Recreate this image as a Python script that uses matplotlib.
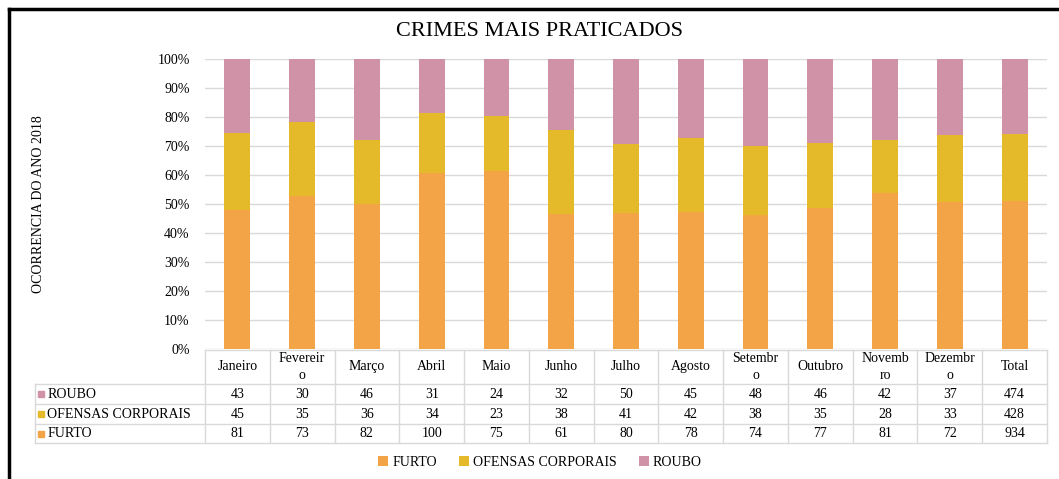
import numpy as np
import matplotlib.pyplot as plt
import matplotlib.transforms as mtransforms
from matplotlib.lines import Line2D
from matplotlib.ticker import PercentFormatter

# dados da tabela
meses = ["Janeiro", "Fevereir\no", "Março", "Abril", "Maio", "Junho", "Julho",
         "Agosto", "Setembr\no", "Outubro", "Novemb\nro", "Dezembr\no", "Total"]
furto = [81, 73, 82, 100, 75, 61, 80, 78, 74, 77, 81, 72, 934]
ofensas = [45, 35, 36, 34, 23, 38, 41, 42, 38, 35, 28, 33, 428]
roubo = [43, 30, 46, 31, 24, 32, 50, 45, 48, 46, 42, 37, 474]

cor_furto = "#F2A447"
cor_ofensas = "#E4BA2A"
cor_roubo = "#D092A7"
grade = "#D9D9D9"

plt.rcParams['font.family'] = ['Liberation Serif', 'DejaVu Serif']

f = np.array(furto, float)
o = np.array(ofensas, float)
r = np.array(roubo, float)
tot = f + o + r
pf, po, pr = f / tot * 100, o / tot * 100, r / tot * 100

fig = plt.figure(figsize=(10.59, 4.79), dpi=100)
ax = fig.add_axes([205 / 1059, 1 - 349 / 479, 842 / 1059, 290 / 479])

x = np.arange(len(meses))
ax.bar(x, pf, 0.4, color=cor_furto, label="FURTO", zorder=3)
ax.bar(x, po, 0.4, bottom=pf, color=cor_ofensas, label="OFENSAS CORPORAIS", zorder=3)
ax.bar(x, pr, 0.4, bottom=pf + po, color=cor_roubo, label="ROUBO", zorder=3)

ax.set_xlim(-0.5, len(meses) - 0.5)
ax.set_ylim(0, 100)
ax.set_yticks(np.arange(0, 101, 10))
ax.yaxis.set_major_formatter(PercentFormatter(decimals=0))
ax.tick_params(axis='y', length=0, labelsize=10, pad=11)
ax.set_xticks([])
ax.grid(axis='y', color=grade, lw=1, zorder=0)
for s in ax.spines.values():
    s.set_visible(False)

ax.set_ylabel("OCORRENCIA DO ANO 2018", fontsize=10, labelpad=0)
ax.yaxis.set_label_coords(-0.19, 0.5)

fig.text(540 / 1059, 1 - 31 / 479, "CRIMES MAIS PRATICADOS", ha='center',
         va='center', fontsize=16)

# tabela de dados abaixo do grafico
blend = mtransforms.blended_transform_factory(ax.transData, ax.transAxes)
y_lin = [-0.003, -0.121, -0.19, -0.259, -0.324]
x_esq = -3.125
n = len(meses)
kw = dict(transform=blend, clip_on=False, color=grade, lw=1)
ax.plot([-0.5, n - 0.5], [y_lin[0]] * 2, **kw)
for yy in y_lin[1:]:
    ax.plot([x_esq, n - 0.5], [yy] * 2, **kw)
ax.plot([x_esq, x_esq], [y_lin[1], y_lin[-1]], **kw)
for i in range(n + 1):
    ax.plot([i - 0.5, i - 0.5], [y_lin[0], y_lin[-1]], **kw)

for i, m in enumerate(meses):
    ax.text(i, (y_lin[0] + y_lin[1]) / 2, m, transform=blend, ha='center',
            va='center', fontsize=10, linespacing=1.4)

linhas = [("ROUBO", roubo, cor_roubo), ("OFENSAS CORPORAIS", ofensas, cor_ofensas),
          ("FURTO", furto, cor_furto)]
for k, (nome, vals, c) in enumerate(linhas):
    yc = (y_lin[k + 1] + y_lin[k + 2]) / 2
    ax.plot([x_esq + 0.1], [yc], marker='s', ms=5, color=c, transform=blend,
            clip_on=False)
    ax.text(x_esq + 0.19, yc, nome, transform=blend, ha='left', va='center',
            fontsize=10)
    for i, v in enumerate(vals):
        ax.text(i, yc, str(v), transform=blend, ha='center', va='center',
                fontsize=10)

fig.legend(loc='center', bbox_to_anchor=(540 / 1059, 1 - 462 / 479), ncol=3,
           frameon=False, fontsize=10, handlelength=0.7, handleheight=0.7,
           handletextpad=0.3, columnspacing=1.6)

# moldura
fig.add_artist(Line2D([9 / 1059, 1], [1 - 9 / 479] * 2, color='black', lw=2.5,
                      transform=fig.transFigure))
fig.add_artist(Line2D([9 / 1059] * 2, [0, 1 - 9 / 479], color='black', lw=2.5,
                      transform=fig.transFigure))

fig.savefig("out.png", dpi=100)
